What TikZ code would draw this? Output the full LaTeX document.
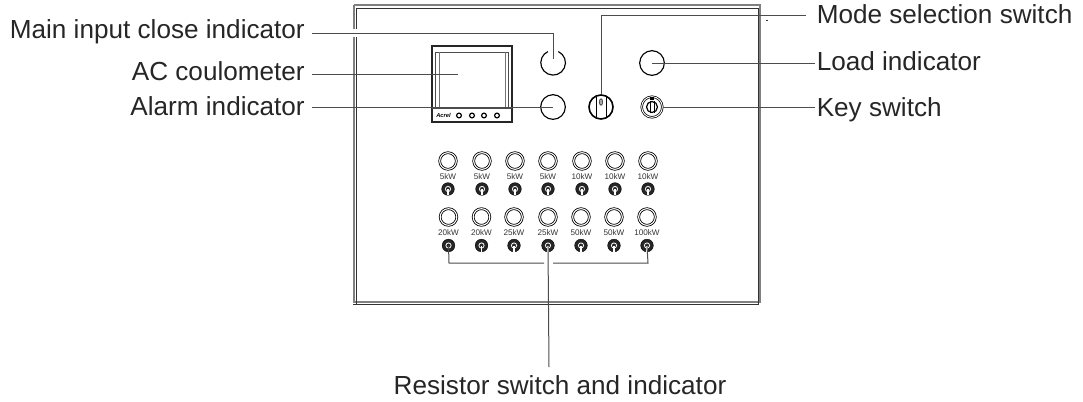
\documentclass[tikz,border=0pt]{standalone}
\usepackage{fontspec}
\setmainfont{Liberation Sans}
\definecolor{panelgray}{gray}{0.5}
\tikzset{
  lbl/.style={font=\fontsize{19.6pt}{22pt}\selectfont,text=black!85,inner sep=0pt},
  rating/.style={font=\fontsize{6.1pt}{7pt}\selectfont,text=black!80,inner sep=0pt},
  leader/.style={line width=0.75pt,black!70},
  lamp/.style={draw,circle,line width=0.85pt,inner sep=0pt,minimum size=18.5pt},
  smalllamp/.style={draw,circle,double,double distance=0.8pt,line width=0.6pt,inner sep=0pt,minimum size=12.5pt},
  toggle/.style={draw,circle,fill=black!85,line width=0.3pt,inner sep=0pt,minimum size=9.5pt},
  panelouter/.style={line width=1.4pt,panelgray},
  panelinner/.style={line width=0.6pt,black!80},
}
\begin{document}
\begin{tikzpicture}[x=0.75pt,y=-0.75pt]
\useasboundingbox (0,0) rectangle (1083,401);
% panel
\draw[panelouter] (354,5) -- (760,5) -- (760,303);
\draw[panelouter] (354,5) -- (354,29) (354,37) -- (354,303);
\draw[panelouter] (354,302) -- (760,302);
\draw[panelinner] (356,8) -- (758,8) -- (758,304) -- (353,304);
\draw[panelinner] (356,8) -- (356,29) (356,37) -- (356,304);
\fill[black!80] (766,19.5) rectangle (768,20.5);
% meter
\draw[line width=0.9pt,black!85] (432,46) rectangle (512,122);
\draw[line width=0.5pt,black!70] (435,52) rectangle (508,108);
\draw[line width=0.5pt,black!55] (439,52) -- (439,108) (505,52) -- (505,108);
\draw[line width=0.5pt,black!70] (432,108) -- (512,108);
\node[inner sep=0pt,font=\fontsize{4.3pt}{5pt}\bfseries\itshape\selectfont] (brand) at (443.5,115.5) {Acrel};
\foreach \i/\x in {1/459,2/472,3/484,4/497}
  \node[draw,circle,line width=0.9pt,inner sep=0pt,minimum size=3.6pt] (key\i) at (\x,115.5) {};
\coordinate (screen) at (458,74);
% lamps and switches
\node[circle,minimum size=18.5pt,inner sep=0pt] (mainlamp) at (553,63) {};
\draw[line width=0.85pt] (mainlamp.65) arc (-65:245:12.33);
\node[lamp] (alarmlamp) at (553,107) {};
\node[lamp] (loadlamp) at (652,63) {};
\node[draw,circle,line width=1.2pt,inner sep=0pt,minimum size=18pt] (modesw) at (601,107) {};
\draw[line width=0.7pt] (596,97) -- (596,117) (606,97) -- (606,117);
\draw[line width=0.3pt,fill=black!35] (601,102) ellipse (1.6 and 3.4);
\node[draw,circle,line width=0.55pt,double,double distance=0.7pt,inner sep=0pt,minimum size=15.5pt] (keysw) at (652,107) {};
\draw[line width=0.9pt] (652,107) circle (5.5);
\draw[line width=0.7pt] (650,101) -- (650,113) (654,101) -- (654,113);
\fill (650,96.5) rectangle (654,100);
% resistor rows
\foreach \i/\x/\r in {1/448/5kW,2/482/5kW,3/515/5kW,4/548/5kW,5/582/10kW,6/615/10kW,7/648/10kW}{
  \node[smalllamp] (up\i) at (\x,161) {};
  \node[rating] (upkw\i) at (\x,177) {\r};
  \node[toggle] (upsw\i) at (\x,189) {};
  \draw[white,line width=0.6pt] (\x,189) circle (2.6);
  \draw[white,line width=0.9pt] (\x,189) -- (\x,195);
}
\foreach \i/\x/\r in {1/448.5/20kW,2/481.5/20kW,3/514/25kW,4/548/25kW,5/581/50kW,6/614/50kW,7/647/100kW}{
  \node[smalllamp] (lo\i) at (\x,217) {};
  \node[rating] (lokw\i) at (\x,233) {\r};
  \node[toggle] (losw\i) at (\x,245.5) {};
  \draw[white,line width=0.6pt] (\x,245.5) circle (2.6);
  \draw[white,line width=0.9pt] (\x,245.5) -- (\x,251.5);
}
% labels
\node[lbl,anchor=base east] (mainlbl) at (305,38.3) {Main input close indicator};
\node[lbl,anchor=base east] (aclbl) at (305,80.7) {AC coulometer};
\node[lbl,anchor=base east] (alarmlbl) at (305,115) {Alarm indicator};
\node[lbl,anchor=base west] (modelbl) at (816.5,23.3) {Mode selection switch};
\node[lbl,anchor=base west] (loadlbl) at (816.5,70) {Load indicator};
\node[lbl,anchor=base west] (keylbl) at (816.5,116.7) {Key switch};
\node[lbl,anchor=base] (reslbl) at (560,394) {Resistor switch and indicator};
% leaders
\coordinate (mainend) at (312,33);
\coordinate (acend) at (312,74);
\coordinate (alarmend) at (312,107);
\coordinate (modeend) at (806,15);
\coordinate (loadend) at (815,63);
\coordinate (keyend) at (815,107);
\coordinate (resend) at (549,367);
\draw[leader] (mainend) -- (553,33) -- (553,59);
\draw[leader] (acend) -- (screen);
\draw[leader] (alarmend) -- (alarmlamp.center);
\draw[leader] (modesw.north) -- (601,15) -- (modeend);
\draw[leader] (loadlamp.center) -- (loadend);
\draw[leader] (keysw.east) -- (keyend);
\draw[leader] (losw1.center) -- (449,263) -- (544,263);
\draw[leader] (losw7.center) -- (648,263) -- (553,263);
\draw[leader] (losw4.center) -- (resend);
\end{tikzpicture}
\end{document}
